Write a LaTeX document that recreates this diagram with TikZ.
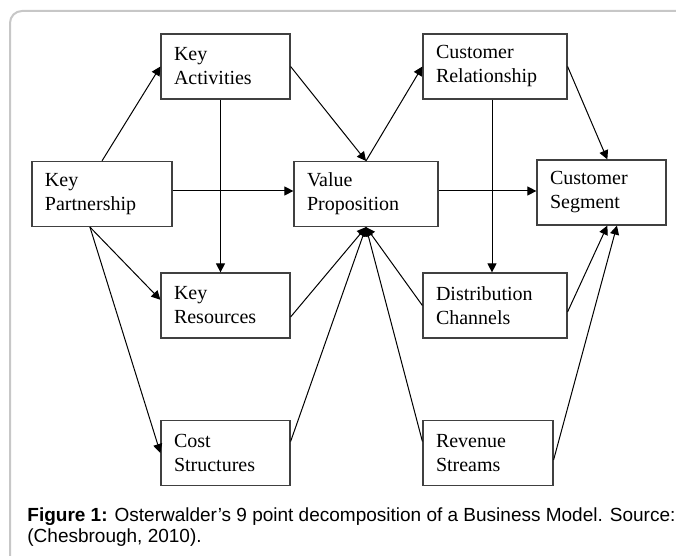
\documentclass[tikz,border=0pt]{standalone}
\usepackage{fontspec}
\setmainfont{Liberation Serif}
\newfontfamily\capfont{Liberation Sans}
\usetikzlibrary{arrows.meta}
\tikzset{blk/.style={draw=black!75, line width=0.6pt, rectangle, align=left, inner xsep=6.5pt, inner ysep=0pt, minimum height=32.5pt, text width=#1, font=\fontsize{10}{12}\selectfont}, blk/.default={51.5pt}}
\tikzset{arr/.style={-{Triangle[length=4.5pt,width=4.5pt]}, line width=0.5pt}}

\begin{document}
\begin{tikzpicture}[x=0.5pt, y=-0.5pt]
	\useasboundingbox (0,0) rectangle (676,556);
	\draw[black!22, line width=1pt, rounded corners=6pt] (10,556) -- (10,11) -- (676,11);
	% boxes
	\node[blk=51.5pt] (KA) at (225.5,66.5) {Key\\Activities};
	\node[blk=59pt] (CR) at (495,66.5) {Customer\\Relationship};
	\node[blk=57pt] (KP) at (102,194) {Key\\Partnership};
	\node[blk=59pt] (VP) at (366,194) {Value\\Proposition};
	\node[blk=51.5pt] (CSg) at (601.5,192.5) {Customer\\Segment};
	\node[blk=51.5pt] (KR) at (225.5,305.5) {Key\\Resources};
	\node[blk=59pt] (DC) at (495,305.5) {Distribution\\Channels};
	\node[blk=51.5pt] (CoS) at (225.5,453) {Cost\\Structures};
	\node[blk=52pt] (RS) at (488,453) {Revenue\\Streams};
	% arrows
	\draw[arr] (KP.north) -- (KA.west);
	\draw[arr] ([xshift=-2.5pt]KA.south) -- ([xshift=-2.5pt]KR.north);
	\draw[arr] ([yshift=1.5pt]KP.east) -- ([yshift=1.5pt]KP.east -| VP.west);
	\draw[arr] (KP.250) -- (KR.175);
	\draw[arr] (KP.250) -- (CoS.west);
	\draw[arr] (KA.east) -- (VP.north);
	\draw[arr] (VP.north) -- (CR.west);
	\draw[arr] (CR.east) -- (CSg.80);
	\draw[arr] ([xshift=-1.5pt]CR.south) -- ([xshift=-1.5pt]DC.north);
	\draw[arr] ([yshift=1.5pt]VP.east) -- ([yshift=1.5pt]VP.east -| CSg.west);
	\draw[arr] (KR.-10) -- (VP.south);
	\draw[arr] (CoS.10) -- (VP.south);
	\draw[arr] (DC.west) -- (VP.south);
	\draw[arr] (RS.170) -- (VP.south);
	\draw[arr] (DC.-5) -- (CSg.-80);
	\draw[arr] (RS.-6) -- (CSg.-65);
	% caption
	\node[anchor=north west, align=left, inner sep=0pt, font=\capfont\fontsize{9.5}{10.5}\selectfont] (cap) at (27,507) {\textbf{Figure 1:} Osterwalder’s 9 point decomposition of a Business Model. Source:\\(Chesbrough, 2010).};
\end{tikzpicture}
\end{document}
